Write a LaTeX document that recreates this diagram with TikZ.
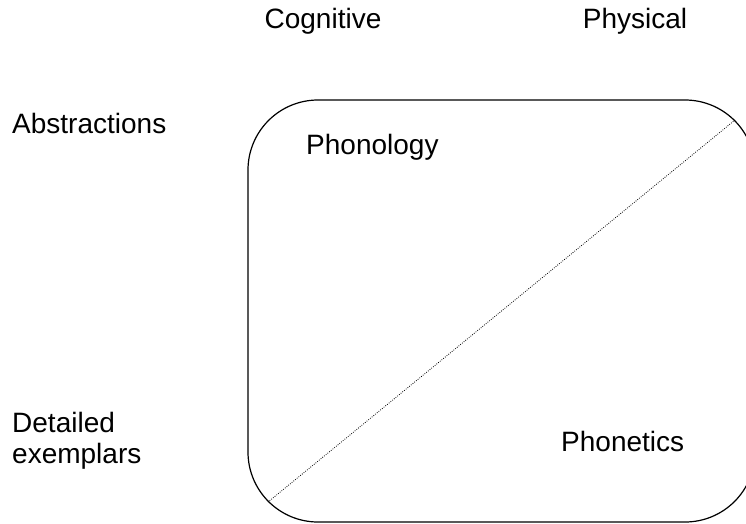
\documentclass[tikz,border=0pt]{standalone}
\usepackage{fontspec}
\setmainfont{Liberation Sans}
\usepackage{tikz}
\usetikzlibrary{calc,positioning}

\begin{document}
\begin{tikzpicture}[
  x=1pt, y=-1pt,
  axislbl/.style={inner sep=0pt, font=\fontsize{28}{31}\selectfont},
  region/.style={inner sep=0pt, font=\fontsize{28}{31}\selectfont},
  frame/.style={rectangle, draw=black, line width=1.2pt,
                rounded corners=70pt, inner sep=0pt,
                minimum width=507pt, minimum height=422pt},
  divide/.style={black, line width=0.8pt, dash pattern=on 0.8pt off 1.4pt}
]
  \clip (0,0) rectangle (746,523);

  \node[frame] (box) at (501.5,311) {};

  % Column headings
  \node[axislbl, anchor=base] (cog)  at (323,28) {Cognitive};
  \node[axislbl, anchor=base] (phys) at (635,28) {Physical};

  % Row headings
  \node[axislbl, anchor=base west] (abs) at (12,133) {Abstractions};
  \node[axislbl, anchor=base west, align=left] (det) at (12,463)
    {Detailed\\exemplars};

  % Regions
  \node[region, anchor=base west] (phonol) at (306,154) {Phonology};
  \node[region, anchor=base west] (phonet) at (561,451) {Phonetics};

  \coordinate (dl) at ($(box.south west)+(20.5,-20.5)$);
  \coordinate (tr) at ($(box.north east)+(-20.5,20.5)$);
  \draw[divide] (dl) -- (tr);
\end{tikzpicture}
\end{document}
